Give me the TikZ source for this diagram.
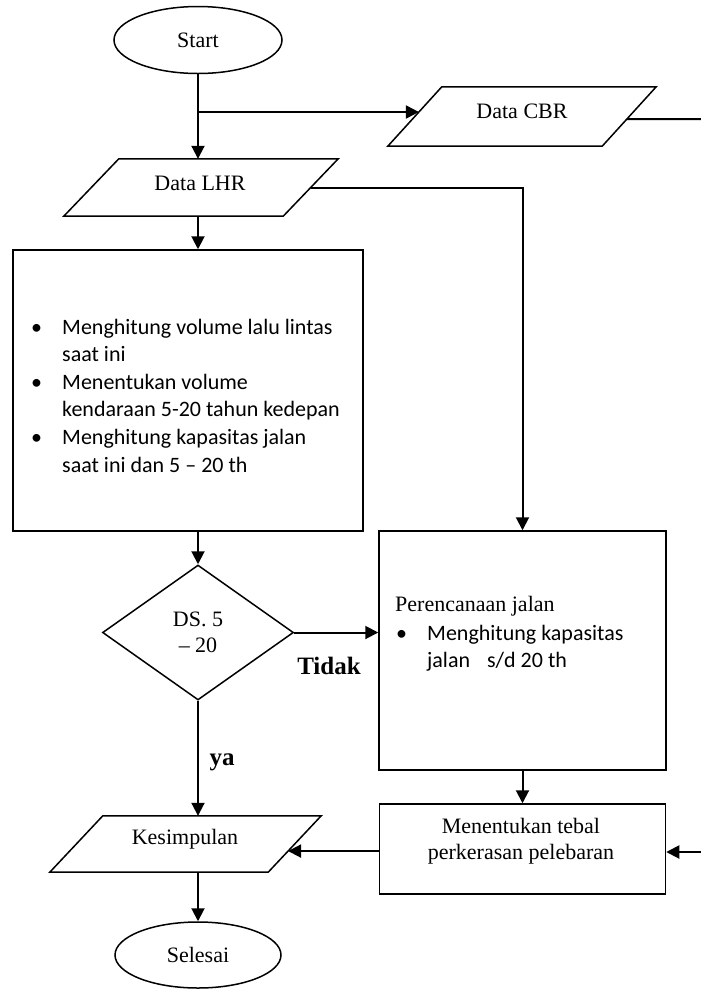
\documentclass[tikz,border=0pt]{standalone}
\usepackage{fontspec}
\setmainfont{Liberation Serif}
\newfontfamily\calfont{Carlito}
\usetikzlibrary{shapes.geometric,arrows.meta,calc}
\newcommand\drawpara[2]{\draw[shapeline] (#1.south west) -- ([xshift=#2]#1.north west) -- (#1.north east) -- ([xshift=-#2]#1.south east) -- cycle;}
\begin{document}
\begin{tikzpicture}[x=1pt,y=-1pt,
  shapeline/.style={line width=1.5pt, line join=miter},
  shp/.style={draw, line width=1.5pt, inner sep=0pt},
  invis/.style={draw=none, inner sep=0pt},
  arr/.style={line width=2pt, -{Triangle[length=13pt,width=13pt]}},
  ln/.style={line width=2pt},
  lbl/.style={font=\fontsize{22}{26}\selectfont, inner sep=0pt},
  boldlbl/.style={font=\fontsize{25}{30}\selectfont\bfseries, inner sep=0pt},
  body/.style={font=\calfont\fontsize{22}{27.6}\selectfont, inner sep=0pt, anchor=base west},
]
\useasboundingbox (0,0) rectangle (701,989);

% shapes
\node[shp, ellipse, minimum width=168, minimum height=67, font=\fontsize{22}{26}\selectfont] (start) at (198,40) {Start};

\node[invis, minimum width=268, minimum height=59] (cbr) at (522,116.5) {};
\drawpara{cbr}{54}
\node[lbl] (cbrt) at (522,111) {Data CBR};

\node[invis, minimum width=274, minimum height=57] (lhr) at (201,187.5) {};
\drawpara{lhr}{55}
\node[lbl] (lhrt) at (200,183) {Data LHR};

\node[shp, minimum width=350, minimum height=281] (hitung) at (188,390.5) {};
\node[body] (hitungt) at (31,334) {\begin{tabular}[t]{@{}p{31pt}@{}l@{}}\textbullet & Menghitung volume lalu lintas\\ & saat ini\\ \textbullet & Menentukan volume\\ & kendaraan 5-20 tahun kedepan\\ \textbullet & Menghitung kapasitas jalan\\ & saat ini dan 5 – 20 th\end{tabular}};

\node[shp, diamond, minimum width=191, minimum height=135, align=center, font=\fontsize{22}{26}\selectfont] (ds) at (198,632.5) {DS. 5\\– 20};

\node[shp, minimum width=287, minimum height=239] (peren) at (522.5,650.5) {};
\node[lbl, anchor=base west] (perent) at (395,611) {Perencanaan jalan};
\node[body] (perenb) at (396,640) {\begin{tabular}[t]{@{}p{31pt}@{}l@{}}\textbullet & Menghitung kapasitas\\ & jalan\hspace{17pt}s/d 20 th\end{tabular}};

\node[shp, minimum width=286, minimum height=90] (ment) at (522.5,849) {};
\node[lbl, anchor=north, align=center] (mentt) at (521,818) {Menentukan tebal\\perkerasan pelebaran};

\node[invis, minimum width=271, minimum height=56] (kes) at (185.5,844) {};
\drawpara{kes}{53}
\node[lbl] (kest) at (185,839) {Kesimpulan};

\node[shp, ellipse, minimum width=166, minimum height=66, font=\fontsize{22}{26}\selectfont] (sel) at (198,955) {Selesai};

% labels
\node[boldlbl] (tidak) at (329,666) {Tidak};
\node[boldlbl] (ya) at (222,762) {ya};

% connector points
\coordinate (br) at (198,112);
\coordinate (cbrin) at ($(cbr.south west)!0.576!([xshift=54]cbr.north west)$);
\coordinate (cbrout) at ($([xshift=-54]cbr.south east)!0.458!(cbr.north east)$);
\coordinate (cbrend) at (701,119);
\coordinate (lhrout) at ($([xshift=-55]lhr.south east)!0.5!(lhr.north east)$);
\coordinate (kesin) at ($([xshift=-53]kes.south east)!0.375!(kes.north east)$);
\coordinate (mentin) at (701,852);

% connectors
\draw[arr] (start.south) -- (start.south |- lhr.north);
\draw[arr] (br) -- (br -| cbrin);
\draw[ln] (cbrout) -- (cbrend);
\draw[arr] (start.south |- lhr.south) -- (start.south |- hitung.north);
\draw[arr] (lhrout) -| (peren.north);
\draw[arr] (start.south |- hitung.south) -- (ds.north);
\draw[arr] (ds.east) -- (peren.west |- ds.east);
\draw[arr] (ds.south) -- (ds.south |- kes.north);
\draw[arr] (peren.south) -- (ment.north);
\draw[arr] (ment.west |- kesin) -- (kesin);
\draw[arr] (mentin) -- (ment.east |- mentin);
\draw[arr] (ds.south |- kes.south) -- (sel.north);
\end{tikzpicture}
\end{document}
